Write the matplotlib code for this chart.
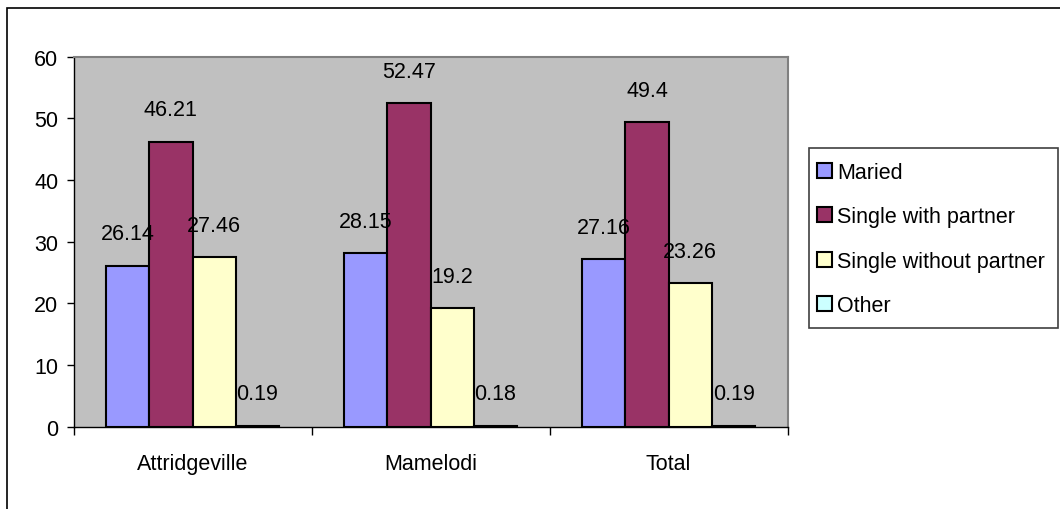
import matplotlib.pyplot as plt
from matplotlib.patches import Patch, Rectangle

plt.rcParams['font.family'] = ['Liberation Sans', 'DejaVu Sans']

# ----------------------------
# Data
# ----------------------------
areas = ["Attridgeville", "Mamelodi", "Total"]
series_names = ["Maried", "Single with partner", "Single without partner", "Other"]
maried = [26.14, 28.15, 27.16]
single_with = [46.21, 52.47, 49.4]
single_without = [27.46, 19.2, 23.26]
other = [0.19, 0.18, 0.19]
value_labels = [
    ["26.14", "28.15", "27.16"],
    ["46.21", "52.47", "49.4"],
    ["27.46", "19.2", "23.26"],
    ["0.19", "0.18", "0.19"],
]
colors = ["#9999FF", "#993366", "#FFFFCC", "#CCFFFF"]

FS = 15.5

W, H = 1060, 510
fig = plt.figure(figsize=(W / 100, H / 100), dpi=100)

# outer chart border (only left/top visible in the reference)
fig.patches.append(Rectangle((7 / W, -0.1), 1.2, 1 - 9 / H + 0.1,
                             transform=fig.transFigure, fill=False,
                             edgecolor="black", linewidth=1.2))

left, right, top, bottom = 73.5, 787.7, 57.7, 427.7
ax = fig.add_axes([left / W, 1 - bottom / H, (right - left) / W, (bottom - top) / H])
ax.set_facecolor("#C0C0C0")

width = 1 / 5.5
all_series = [maried, single_with, single_without, other]
for i, (vals, col) in enumerate(zip(all_series, colors)):
    xs = [k + (i - 1.5) * width for k in range(len(areas))]
    ax.bar(xs, vals, width=width, color=col, edgecolor="black", linewidth=1.5,
           zorder=2)
    for x, v, lab in zip(xs, vals, value_labels[i]):
        ax.annotate(lab, (x, v), xytext=(0, 15.5), textcoords="offset points",
                    ha="center", va="bottom", fontsize=FS, zorder=3)

ax.set_xlim(-0.5, 2.5)
ax.set_ylim(0, 60)
ax.set_yticks(range(0, 61, 10))
ax.tick_params(axis="y", length=5, width=1, pad=6, labelsize=FS)

ax.set_xticks(range(len(areas)))
ax.set_xticklabels(areas, fontsize=FS)
ax.tick_params(axis="x", which="major", length=0, pad=19)
ax.set_xticks([-0.5, 0.5, 1.5, 2.5], minor=True)
ax.tick_params(axis="x", which="minor", length=6, width=1)

for s in ["top", "right"]:
    ax.spines[s].set_color("#808080")
    ax.spines[s].set_linewidth(1.5)
for s in ["left", "bottom"]:
    ax.spines[s].set_color("black")
    ax.spines[s].set_linewidth(1)

# legend frame drawn separately (Excel pads more vertically than horizontally)
fig.patches.append(Rectangle((809.3 / W, 1 - 329.3 / H), (1057.7 - 809.3) / W,
                             (329.3 - 149.3) / H, transform=fig.transFigure,
                             facecolor="white", edgecolor="#404040", linewidth=1.2))

handles = [Patch(facecolor=c, edgecolor="black", linewidth=1.5) for c in colors]
leg = fig.legend(handles, series_names, loc="center left",
                 bbox_to_anchor=(816.5 / W, 1 - 240 / H), fontsize=FS,
                 frameon=False, handlelength=0.7, handleheight=0.7,
                 handletextpad=0.25, labelspacing=1.08, borderpad=0,
                 borderaxespad=0)

fig.savefig("out.png", dpi=100)
